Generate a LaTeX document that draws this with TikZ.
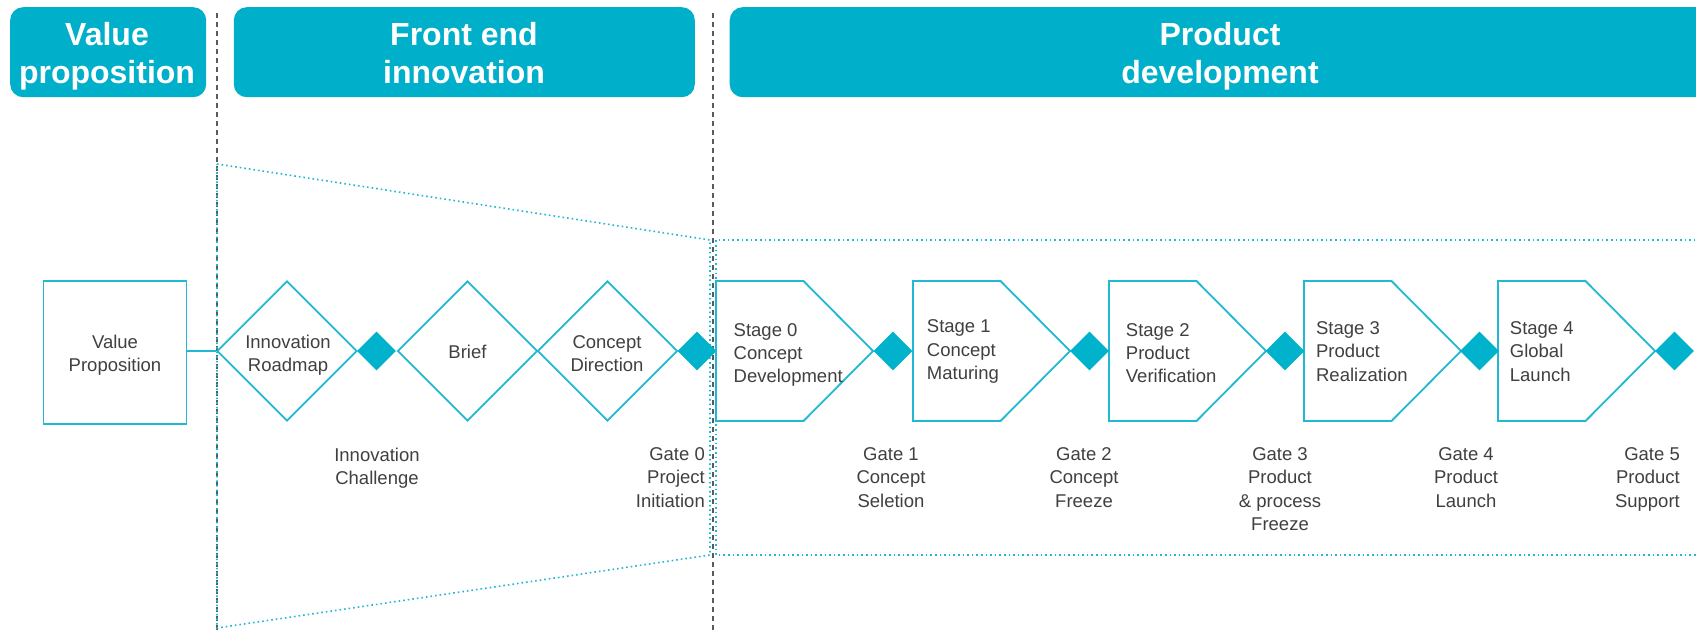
\documentclass[tikz,border=0pt]{standalone}
\usepackage{fontspec}
\setmainfont{Liberation Sans}
\usetikzlibrary{shapes.geometric}
\definecolor{hdr}{RGB}{0,176,202}
\definecolor{outl}{RGB}{32,184,210}
\definecolor{gatec}{RGB}{0,178,204}
\definecolor{txt}{RGB}{64,64,64}
\definecolor{dashg}{RGB}{90,90,90}
\begin{document}
\begin{tikzpicture}[x=1pt,y=-1pt,
  hdrbox/.style={fill=hdr, draw=none, rounded corners=13pt, inner sep=0pt, anchor=north west},
  hdrtxt/.style={text=white, font=\fontsize{32}{38}\selectfont\bfseries, align=center, inner sep=0pt, anchor=north},
  shapeline/.style={draw=outl, line width=1.8pt},
  bigdia/.style={diamond, shapeline, fill=white, minimum width=140pt, minimum height=140pt, inner sep=0pt},
  gatedia/.style={diamond, fill=gatec, draw=none, minimum width=39pt, minimum height=39pt, inner sep=0pt},
  lbl/.style={text=txt, font=\fontsize{18.5}{23.3}\selectfont, inner sep=0pt},
  stagetxt/.style={lbl, align=left, anchor=north west},
  gatetxt/.style={lbl, align=center, anchor=north},
  sepline/.style={draw=dashg, line width=1.1pt, dash pattern=on 5pt off 4pt},
  dotline/.style={draw=outl, line width=1.6pt, dash pattern=on 1.6pt off 3pt},
]
\useasboundingbox (0,0) rectangle (1696,632);
\clip (0,0) rectangle (1696,632);
\fill[white] (0,0) rectangle (1696,632);

% header boxes
\node[hdrbox, minimum width=196pt, minimum height=90pt] (hvp) at (10,7) {};
\node[hdrbox, minimum width=461pt, minimum height=90pt] (hfe) at (233.6,7) {};
\node[hdrbox, minimum width=1000pt, minimum height=90pt] (hpd) at (729.5,7) {};
\node[hdrtxt] (tvp) at (107,21.7) {Value\\proposition};
\node[hdrtxt] (tfe) at (464,21.7) {Front end\\innovation};
\node[hdrtxt] (tpd) at (1220,21.7) {Product\\development};

% separators
\draw[sepline] (217,13) -- (217,632);
\draw[sepline] (713,13) -- (713,632);

% dotted funnel and product frame
\draw[dotline] (217,164) -- (710,240) -- (710,555) -- (217,628) -- cycle;
\draw[dotline] (1700,240) -- (716,240) -- (716,555) -- (1700,555);

% value proposition box
\node[shapeline, fill=white, minimum width=143pt, minimum height=143pt, inner sep=0pt] (vpbox) at (115,352.5) {};

% front end diamonds
\node[bigdia] (d1) at (287,351) {};
\node[bigdia] (d2) at (467.5,351) {};
\node[bigdia] (d3) at (607.5,351) {};
\draw[shapeline] (vpbox.east |- d1.west) -- (d1.west);
\node[gatedia] (ga) at (376.5,351) {};
\node[gatedia] (g0) at (697,351) {};

% stages
\draw[shapeline, fill=white] (716,281) -- (803.5,281) -- (873,351) -- (803.5,421) -- (716,421) -- cycle;
\draw[shapeline, fill=white] (913,281) -- (1000.5,281) -- (1070,351) -- (1000.5,421) -- (913,421) -- cycle;
\draw[shapeline, fill=white] (1109,281) -- (1196.5,281) -- (1266,351) -- (1196.5,421) -- (1109,421) -- cycle;
\draw[shapeline, fill=white] (1304,281) -- (1391.5,281) -- (1461,351) -- (1391.5,421) -- (1304,421) -- cycle;
\draw[shapeline, fill=white] (1498,281) -- (1585.5,281) -- (1655,351) -- (1585.5,421) -- (1498,421) -- cycle;
\node[gatedia] (g1) at (893,351) {};
\node[gatedia] (g2) at (1089.5,351) {};
\node[gatedia] (g3) at (1285,351) {};
\node[gatedia] (g4) at (1479.5,351) {};
\node[gatedia] (g5) at (1674.5,351) {};

% texts in shapes
\node[gatetxt] (tvpb) at (115,335) {Value\\Proposition};
\node[gatetxt] (td1) at (288,335) {Innovation\\Roadmap};
\node[gatetxt] (td2) at (467.5,345.1) {Brief};
\node[gatetxt] (td3) at (607,335) {Concept\\Direction};
\node[stagetxt] (ts0) at (733.5,323.2) {Stage 0\\Concept\\Development};
\node[stagetxt] (ts1) at (926.7,319.8) {Stage 1\\Concept\\Maturing};
\node[stagetxt] (ts2) at (1125.7,323.2) {Stage 2\\Product\\Verification};
\node[stagetxt] (ts3) at (1315.9,321.5) {Stage 3\\Product\\Realization};
\node[stagetxt] (ts4) at (1509.7,321.5) {Stage 4\\Global\\Launch};

% gate labels
\node[gatetxt] (lga) at (377,447.5) {Innovation\\Challenge};
\node[lbl, align=right, anchor=north east] (lg0) at (705,447.5) {Gate 0\\Project\\Initiation};
\node[gatetxt] (lg1) at (891,447.5) {Gate 1\\Concept\\Seletion};
\node[gatetxt] (lg2) at (1084,447.5) {Gate 2\\Concept\\Freeze};
\node[gatetxt] (lg3) at (1280,447.5) {Gate 3\\Product\\\& process\\Freeze};
\node[gatetxt] (lg4) at (1466,447.5) {Gate 4\\Product\\Launch};
\node[lbl, align=right, anchor=north east] (lg5) at (1680,447.5) {Gate 5\\Product\\Support};
\end{tikzpicture}
\end{document}
